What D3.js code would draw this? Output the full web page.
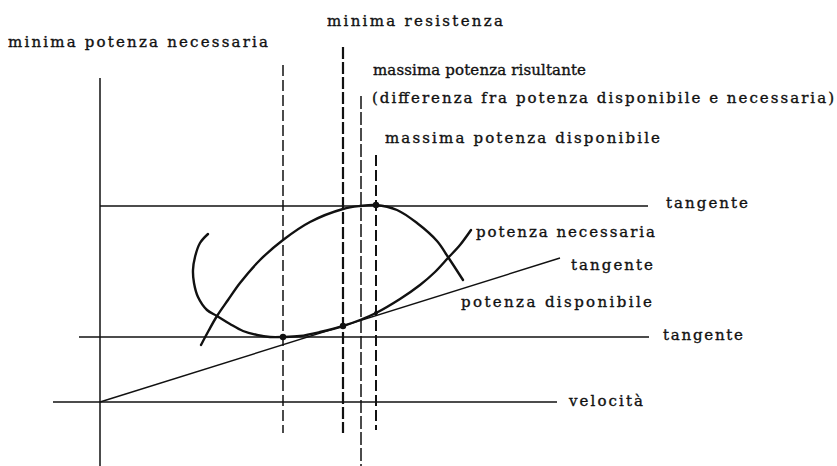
<!DOCTYPE html>
<html lang="it">
  <head>
    <meta charset="utf-8">
    <title>Potenza necessaria e disponibile</title>
    <script src="https://cdn.jsdelivr.net/npm/d3@7"></script>
    <style>
      body { margin: 0; background: #fff; }
      text {
        font-family: "DejaVu Serif", "Liberation Serif", serif;
        font-size: 15px;
        fill: #111;
        stroke: #111;
        stroke-width: 0.35;
      }
    </style>
  </head>
  <body>
    <script>

        var w = 837;
        var h = 466;

        // curve: [velocita, potenza]
        var potenzaNecessaria = [
          [10.8, 16.8], [10.0, 15.9], [9.5, 14.5], [9.3, 13.2], [9.4, 11.9],
          [9.8, 10.5], [10.7, 9.2], [11.7, 8.6], [13.0, 7.8], [14.3, 7.1],
          [15.7, 6.7], [17.0, 6.5], [18.3, 6.5], [20.0, 6.6], [22.0, 7.0],
          [24.3, 7.6], [26.0, 8.2], [27.6, 8.9], [30.0, 10.3], [32.0, 11.7],
          [33.5, 13.0], [34.8, 14.4], [36.0, 15.7], [37.1, 17.2]
        ];

        var potenzaDisponibile = [
          [10.1, 5.7], [10.9, 7.2], [11.7, 8.6], [12.8, 10.2], [14.0, 11.9],
          [16.0, 14.2], [18.3, 16.2], [21.0, 18.0], [24.3, 19.3], [26.0, 19.6],
          [27.6, 19.7], [29.7, 19.2], [31.7, 17.9], [33.7, 16.1], [34.8, 14.5],
          [36.3, 12.2]
        ];

        // tangent from the origin touching potenza necessaria
        var tangenteOrigine = [[0, 0], [46, 14.4]];
        var tangenteMax = [[0, 19.6], [54.8, 19.6]];
        var tangenteMin = [[-2.1, 6.5], [54.9, 6.5]];

        // vertical reference lines (velocita, top, bottom)
        var riferimentiV = [18.3, 24.3, 26.1, 27.6];
        var riferimentiTop = [33.7, 35.5, 30.6, 24.7];
        var riferimentiBottom = [-3.1, -3.1, -6.4, -2.8];

        // points of tangency
        var punti = [[18.3, 6.5], [24.3, 7.6], [27.6, 19.7], [27.6, 8.9]];

        var etichette = [
          "minima potenza necessaria",
          "minima resistenza",
          "massima potenza risultante",
          "(differenza fra potenza disponibile e necessaria)",
          "massima potenza disponibile",
          "tangente",
          "potenza necessaria",
          "tangente",
          "potenza disponibile",
          "tangente",
          "velocità"
        ];

        var xScale = d3.scaleLinear().domain([0, 46]).range([100, 560]);
        var yScale = d3.scaleLinear().domain([0, 20]).range([402, 202]);

        var mySvg = d3.select("body")
                      .append("svg")
                      .attr("width", w)
                      .attr("height", h);

        var line = d3.line()
                     .x(function(d) { return xScale(d[0]); })
                     .y(function(d) { return yScale(d[1]); });

        var curve = d3.line()
                      .x(function(d) { return xScale(d[0]); })
                      .y(function(d) { return yScale(d[1]); })
                      .curve(d3.curveCatmullRom.alpha(0.5));

        // axes
        mySvg.append("path")
             .attr("d", line([[-4.7, 0], [45.7, 0]]))
             .attr("stroke", "#111").attr("stroke-width", 1.4).attr("fill", "none");
        mySvg.append("path")
             .attr("d", line([[0, 32.4], [0, -6.4]]))
             .attr("stroke", "#111").attr("stroke-width", 1.5).attr("fill", "none");

        // tangents
        [tangenteMax, tangenteMin].forEach(function(t) {
          mySvg.append("path")
               .attr("d", line(t))
               .attr("stroke", "#111").attr("stroke-width", 1.3).attr("fill", "none");
        });
        mySvg.append("path")
             .attr("d", line(tangenteOrigine))
             .attr("stroke", "#111").attr("stroke-width", 1.4).attr("fill", "none");

        // dashed verticals
        var dashW = [1.5, 2.2, 1.5, 2.0];
        var dashP = ["11,4", "12,3", "13,3", "11,4"];
        mySvg.selectAll("line.rif")
             .data(riferimentiV)
             .enter()
             .append("line")
             .attr("class", "rif")
             .attr("x1", function(d) { return xScale(d); })
             .attr("x2", function(d) { return xScale(d); })
             .attr("y1", function(d, i) { return yScale(riferimentiTop[i]); })
             .attr("y2", function(d, i) { return yScale(riferimentiBottom[i]); })
             .attr("stroke", "#111")
             .attr("stroke-width", function(d, i) { return dashW[i]; })
             .attr("stroke-dasharray", function(d, i) { return dashP[i]; });

        // curves
        [potenzaNecessaria, potenzaDisponibile].forEach(function(c) {
          mySvg.append("path")
               .attr("d", curve(c))
               .attr("stroke", "#111").attr("stroke-width", 2.4)
               .attr("fill", "none").attr("stroke-linecap", "round");
        });

        mySvg.selectAll("circle")
             .data(punti)
             .enter()
             .append("circle")
             .attr("cx", function(d) { return xScale(d[0]); })
             .attr("cy", function(d) { return yScale(d[1]); })
             .attr("r", function(d, i) { return i === 3 ? 2 : 3.2; })
             .attr("fill", "#111");

        // label layout: x, baseline, width
        var layout = [
          [8, 47, 260], [327, 26, 176], [373, 75, 213], [372, 103, 462],
          [385, 143, 275], [666, 208, 82], [476, 237, 179], [571, 270, 82],
          [461, 307, 191], [663, 340, 80], [569, 406, 74]
        ];

        mySvg.selectAll("text")
             .data(etichette)
             .enter()
             .append("text")
             .attr("x", function(d, i) { return layout[i][0]; })
             .attr("y", function(d, i) { return layout[i][1]; })
             .attr("textLength", function(d, i) { return layout[i][2]; })
             .attr("lengthAdjust", "spacing")
             .text(function(d) { return d; });

    </script>
  </body>
</html>
